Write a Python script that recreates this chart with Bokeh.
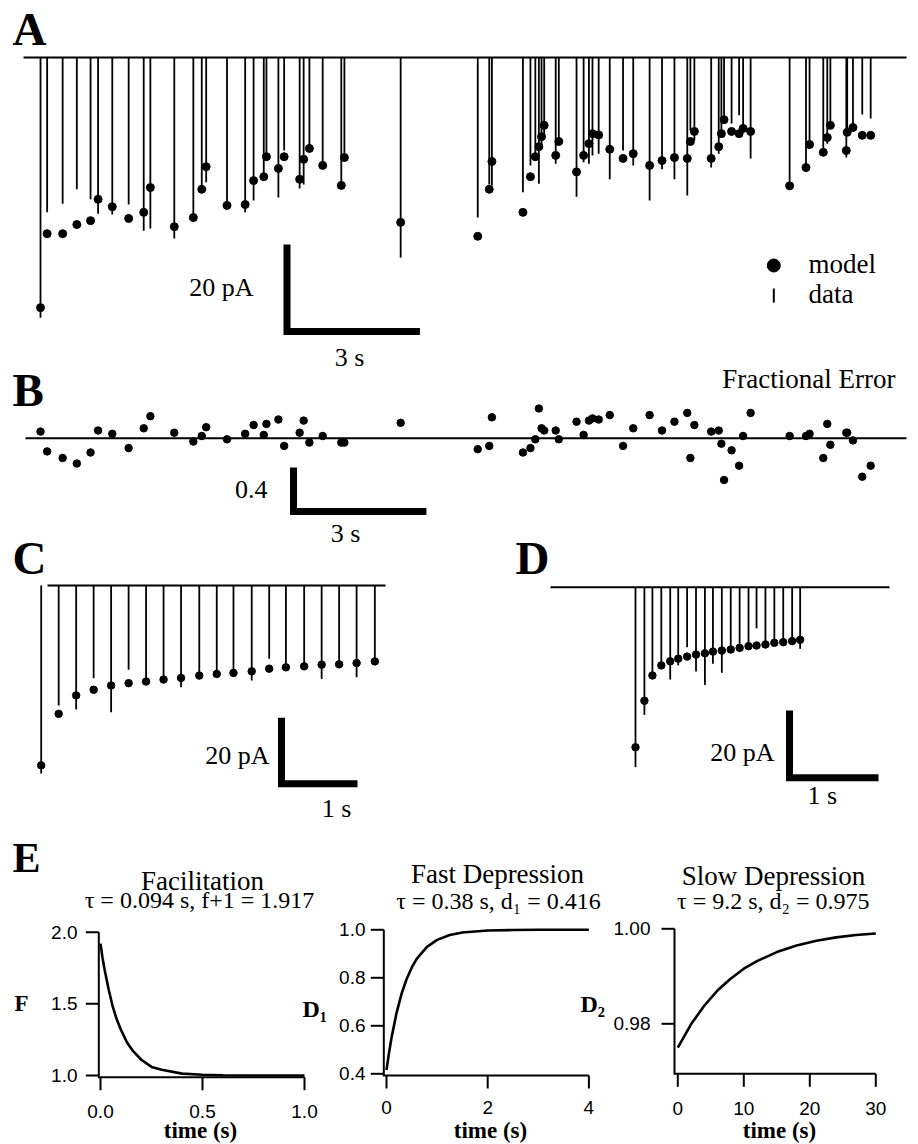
from bokeh.plotting import figure
from bokeh.models import Range1d, Label
from bokeh.embed import file_html
from bokeh.resources import INLINE

SERIF = "Liberation Serif"
SANS = "Liberation Sans"
W, H = 918, 1144

# ---------------- data ----------------
# Panel A: irregular spike train; EPSC amplitudes (pA) for data and model
a_time = [0.00, 0.15, 0.50, 0.82, 1.13, 1.30, 1.62, 1.99, 2.33, 2.48,
          3.02, 3.45, 3.64, 3.74, 4.21, 4.62, 4.81, 5.04, 5.10, 5.37,
          5.50, 5.85, 5.94, 6.07, 6.37, 6.79, 6.86, 8.13,
          9.87, 10.13, 10.19, 10.89, 11.06, 11.17, 11.25, 11.31, 11.37, 11.63,
          11.70, 12.10, 12.26, 12.38, 12.46, 12.60, 12.85, 13.15, 13.38, 13.75,
          14.03, 14.31, 14.60, 14.67, 14.76, 15.14, 15.31, 15.37, 15.43, 15.60,
          15.77, 15.86, 16.03, 16.91, 17.28, 17.36, 17.67, 17.76, 17.83, 18.19,
          18.21, 18.34, 18.55, 18.74]
a_data = [59.8, 35.6, 33.6, 30.3, 32.6, 35.9, 36.1, 33.8, 39.8, 39.3,
          41.6, 36.1, 30.6, 28.7, 34.0, 35.6, 32.9, 27.8, 23.0, 32.2,
          21.4, 30.1, 29.2, 20.7, 24.8, 29.9, 23.2, 46.0,
          36.8, 29.2, 29.4, 31.0, 24.8, 23.2, 29.0, 20.5, 17.7, 24.4,
          19.1, 32.0, 24.1, 24.4, 22.5, 22.1, 28.0, 21.4, 24.8, 32.9,
          25.7, 28.0, 31.7, 16.8, 19.1, 25.3, 22.1, 16.8, 14.5, 15.2,
          13.3, 16.1, 23.2, 29.4, 25.3, 20.9, 22.1, 19.8, 16.1, 23.0,
          17.5, 16.1, 13.1, 14.0]
a_model = [57.5, 40.5, 40.5, 38.4, 37.5, 32.6, 34.3, 37.0, 35.6, 29.9,
           38.9, 36.8, 30.3, 25.1, 34.0, 33.8, 28.3, 27.4, 22.8, 25.5,
           22.8, 28.0, 23.4, 20.9, 24.8, 29.4, 23.0, 37.9,
           41.1, 30.3, 23.9, 35.6, 27.4, 22.8, 20.5, 18.2, 15.6, 22.5,
           19.3, 26.3, 22.5, 19.8, 17.5, 17.8, 21.1, 23.2, 22.1, 24.8,
           23.7, 23.0, 23.2, 19.3, 17.0, 23.2, 20.5, 17.5, 14.3, 17.0,
           17.5, 16.3, 17.0, 29.5, 25.3, 20.0, 21.8, 18.4, 15.6, 21.4,
           17.2, 16.1, 17.9, 17.9]
# Panel B: fractional error at the same spike times
b_error = [0.06, -0.12, -0.18, -0.23, -0.13, 0.07, 0.04, -0.09, 0.09, 0.20,
           0.05, -0.03, 0.02, 0.10, -0.01, 0.04, 0.12, 0.03, 0.13, 0.17,
           -0.07, 0.05, 0.16, -0.04, 0.02, -0.04, -0.04, 0.14,
           -0.10, -0.07, 0.19, -0.13, -0.09, -0.01, 0.27, 0.09, 0.07, 0.07,
           -0.01, 0.15, 0.03, 0.16, 0.18, 0.17, 0.21, -0.07, 0.09, 0.21,
           0.07, 0.15, 0.23, -0.18, 0.12, 0.06, 0.07, -0.05, -0.38, -0.11,
           -0.25, 0.02, 0.23, 0.02, 0.02, 0.04, -0.18, 0.13, -0.06, 0.05,
           0.05, -0.02, -0.35, -0.25]
# Panel C: regular train
c_time = [0.00, 0.23, 0.46, 0.69, 0.92, 1.15, 1.38, 1.61, 1.84, 2.08,
          2.31, 2.53, 2.77, 3.00, 3.22, 3.46, 3.69, 3.92, 4.15, 4.39]
c_data = [57.0, 36.4, 37.6, 28.1, 38.4, 25.5, 29.1, 28.5, 30.8, 27.3,
          26.8, 26.5, 28.8, 22.2, 24.8, 24.5, 28.3, 23.7, 27.8, 23.0]
c_model = [54.5, 38.9, 33.3, 31.6, 30.3, 29.6, 29.1, 28.5, 28.0, 27.3,
           26.8, 26.5, 26.0, 25.2, 24.8, 24.5, 24.0, 23.9, 23.5, 23.0]
# Panel D: faster regular train
d_time = [0.00, 0.10, 0.19, 0.29, 0.39, 0.48, 0.58, 0.68, 0.78, 0.87,
          0.97, 1.07, 1.17, 1.27, 1.36, 1.46, 1.56, 1.66, 1.76, 1.85]
d_data = [53.4, 37.9, 26.2, 23.2, 27.4, 23.2, 17.8, 25.0, 29.0, 22.7,
          25.4, 18.3, 17.8, 17.3, 12.2, 16.8, 16.5, 17.1, 15.3, 18.3]
d_model = [47.5, 33.7, 26.2, 23.2, 22.0, 21.2, 20.6, 20.0, 19.6, 19.1,
           18.8, 18.5, 18.0, 17.5, 17.3, 17.0, 16.5, 16.3, 16.0, 15.6]
# Panel E: recovery curves
fac_t = [0.0, 0.01, 0.02, 0.04, 0.06, 0.08, 0.10, 0.13, 0.16, 0.20, 0.25, 0.30, 0.40, 0.50, 0.60, 0.80, 1.00]
fac_F = [1.92, 1.82, 1.74, 1.60, 1.48, 1.39, 1.32, 1.23, 1.17, 1.11, 1.06, 1.04, 1.013, 1.005, 1.0015, 1.0, 1.0]
fd_t = [0.0, 0.05, 0.1, 0.2, 0.3, 0.4, 0.5, 0.6, 0.8, 1.0, 1.25, 1.5, 2.0, 2.5, 3.0, 4.0]
fd_D1 = [0.416, 0.488, 0.551, 0.655, 0.735, 0.796, 0.843, 0.880, 0.929, 0.958, 0.978, 0.989, 0.997, 0.999, 1.0, 1.0]
sd_t = [0, 2, 4, 6, 8, 10, 12, 15, 18, 21, 24, 27, 30]
sd_D2 = [0.975, 0.9799, 0.9838, 0.9870, 0.9895, 0.9916, 0.9932, 0.9951, 0.9965, 0.9975, 0.9982, 0.9987, 0.9990]

# tick values / labels for panel E
e1_xticks, e1_xlabels = [0.0, 0.5, 1.0], ["0.0", "0.5", "1.0"]
e1_yticks, e1_ylabels = [1.0, 1.5, 2.0], ["1.0", "1.5", "2.0"]
e2_xticks, e2_xlabels = [0, 2, 4], ["0", "2", "4"]
e2_yticks, e2_ylabels = [0.4, 0.6, 0.8, 1.0], ["0.4", "0.6", "0.8", "1.0"]
e3_xticks, e3_xlabels = [0, 10, 20, 30], ["0", "10", "20", "30"]
e3_yticks, e3_ylabels = [0.98, 1.00], ["0.98", "1.00"]

# scale bars
A_BAR = (20, 3)     # pA, s
B_BAR = (0.4, 3)    # error, s
C_BAR = (20, 1)
D_BAR = (20, 1)

# ---------------- one page-sized figure, one named range pair per panel ----------------
p = figure(width=W, height=H, x_range=Range1d(0, W), y_range=Range1d(H, 0),
           toolbar_location=None, output_backend="svg",
           x_axis_location=None, y_axis_location=None, min_border=0,
           outline_line_color=None, background_fill_color="white",
           border_fill_color="white")
p.grid.visible = False


class Panel:
    """Linear pixel <-> data mapping used only to set each panel's range."""
    def __init__(self, name, px0, x0, sx, py0, y0, sy):
        self.px0, self.x0, self.sx = px0, x0, sx
        self.py0, self.y0, self.sy = py0, y0, sy
        self.xn, self.yn = name + "_x", name + "_y"
        p.extra_x_ranges[self.xn] = Range1d(self.x(0), self.x(W))
        p.extra_y_ranges[self.yn] = Range1d(self.y(H), self.y(0))

    def x(self, px):
        return self.x0 + (px - self.px0) / self.sx

    def y(self, py):
        return self.y0 - (py - self.py0) / self.sy

    def kw(self):
        return dict(x_range_name=self.xn, y_range_name=self.yn)

    def text(self, px, py, s, size, align="left", bold=False, font=SERIF, base="middle"):
        p.add_layout(Label(x=self.x(px), y=self.y(py), text=s, text_font=font,
                           text_font_size=size, text_align=align, text_baseline=base,
                           text_font_style="bold" if bold else "normal",
                           text_color="black", **self.kw()))

    def bar(self, cxp, cyp, vlen, hlen):
        cx, cy = self.x(cxp), self.y(cyp)
        p.line([cx, cx, cx + hlen], [cy + vlen, cy, cy], line_width=7, color="black",
               line_join="miter", line_cap="butt", **self.kw())


def trains(pn, t, data, model, dot):
    p.segment(x0=t, y0=[0] * len(t), x1=t, y1=[-v for v in data],
              line_width=1.8, color="black", **pn.kw())
    p.scatter(t, [-v for v in model], size=dot, color="black", **pn.kw())


# ---------------- A ----------------
A = Panel("a", 40, 0.0, 44.3, 57, 0.0, 4.35)
p.line([A.x(23), A.x(906)], [0, 0], line_width=2, color="black", **A.kw())
trains(A, a_time, a_data, a_model, 8)
A.bar(286.5, 331, A_BAR[0], A_BAR[1])
A.text(253, 286.7, "20 pA", "26px", align="right")
A.text(349, 356.7, "3 s", "26px", align="center")
A.text(12, 28, "A", "47px", bold=True)
p.scatter([A.x(773.3)], [A.y(265)], size=13, color="black", **A.kw())
p.segment(x0=[A.x(773.3)], y0=[A.y(288)], x1=[A.x(773.3)], y1=[A.y(302)],
          line_width=2, color="black", **A.kw())
A.text(808, 263.5, "model", "27px")
A.text(808, 293.5, "data", "27px")

# ---------------- B ----------------
B = Panel("b", 40, 0.0, 44.3, 437.7, 0.0, 110)
p.line([B.x(25), B.x(906)], [0, 0], line_width=2, color="black", **B.kw())
p.scatter(a_time, b_error, size=7.5, color="black", **B.kw())
B.bar(293, 511, B_BAR[0], B_BAR[1])
B.text(267, 489.3, "0.4", "26px", align="right")
B.text(345, 533.3, "3 s", "26px", align="center")
B.text(895, 378.3, "Fractional Error", "27px", align="right")
B.text(12, 389, "B", "47px", bold=True)

# ---------------- C ----------------
C = Panel("c", 40.7, 0.0, 76, 585, 0.0, 3.3)
p.line([C.x(47), C.x(385)], [0, 0], line_width=2, color="black", **C.kw())
trains(C, c_time, c_data, c_model, 7.5)
C.bar(281, 783.3, C_BAR[0], C_BAR[1])
C.text(269, 755, "20 pA", "26px", align="right")
C.text(336, 808, "1 s", "26px", align="center")
C.text(12, 557, "C", "47px", bold=True)

# ---------------- D ----------------
D = Panel("d", 635, 0.0, 89, 586.7, 0.0, 3.37)
p.line([D.x(550), D.x(889)], [0, 0], line_width=2, color="black", **D.kw())
trains(D, d_time, d_data, d_model, 7.5)
D.bar(789, 777.3, D_BAR[0], D_BAR[1])
D.text(774, 751.7, "20 pA", "26px", align="right")
D.text(821.7, 795, "1 s", "26px", align="center")
D.text(515, 557, "D", "47px", bold=True)


# ---------------- E ----------------
def e_axes(pn, ax_px, ay_px, xticks, xlabels, yticks, ylabels, xlab_py, ylab_right, tlab_cx):
    xl, yl = pn.x(ax_px), pn.y(ay_px)
    xh, yh = xticks[-1], yticks[-1]
    p.line([xl, xl, xh], [yh, yl, yl], line_width=2, color="black",
           line_join="miter", **pn.kw())
    p.segment(x0=xticks, y0=[yl] * len(xticks), x1=xticks,
              y1=[pn.y(ay_px + 13)] * len(xticks), line_width=2, color="black", **pn.kw())
    p.segment(x0=[xl] * len(yticks), y0=yticks, x1=[pn.x(ax_px - 13)] * len(yticks),
              y1=yticks, line_width=2, color="black", **pn.kw())
    for t, s in zip(xticks, xlabels):
        p.add_layout(Label(x=t, y=pn.y(xlab_py), text=s, text_font=SANS,
                           text_font_size="19px", text_align="center",
                           text_baseline="middle", text_color="black", **pn.kw()))
    for t, s in zip(yticks, ylabels):
        p.add_layout(Label(x=pn.x(ylab_right), y=t, text=s, text_font=SANS,
                           text_font_size="19px", text_align="right",
                           text_baseline="middle", text_color="black", **pn.kw()))
    pn.text(tlab_cx, 1130, "time (s)", "23px", align="center", bold=True)


E1 = Panel("e1", 100, 0.0, 204, 931.7, 2.0, 143.3)
e_axes(E1, 98.3, 1076.7, e1_xticks, e1_xlabels, e1_yticks, e1_ylabels, 1110.5, 77, 200)
p.line(fac_t, fac_F, line_width=2.6, color="black", **E1.kw())
E1.text(202, 880, "Facilitation", "27px", align="center")
E1.text(199, 899.5, "τ = 0.094 s, f+1 = 1.917", "24px", align="center")
E1.text(21, 1002.7, "F", "23px", align="center", bold=True)
E1.text(12, 857, "E", "42px", bold=True)

E2 = Panel("e2", 386, 0.0, 50.6, 929.3, 1.0, 240)
e_axes(E2, 383.3, 1075, e2_xticks, e2_xlabels, e2_yticks, e2_ylabels, 1107, 365, 490)
p.line(fd_t, fd_D1, line_width=2.6, color="black", **E2.kw())
E2.text(497, 873.5, "Fast Depression", "27px", align="center")
E2.text(498, 900, "τ = 0.38 s, d₁ = 0.416", "24px", align="center")
E2.text(302, 1008, "D₁", "24px", bold=True)

E3 = Panel("e3", 677.3, 0.0, 6.6, 928.3, 1.0, 4750)
e_axes(E3, 674, 1073.3, e3_xticks, e3_xlabels, e3_yticks, e3_ylabels, 1107.5, 650, 779)
p.line(sd_t, sd_D2, line_width=2.6, color="black", **E3.kw())
E3.text(773, 875, "Slow Depression", "27px", align="center")
E3.text(772.7, 900, "τ = 9.2 s, d₂ = 0.975", "24px", align="center")
E3.text(580, 1003, "D₂", "24px", bold=True)

open("out.html", "w").write(file_html(p, INLINE))
